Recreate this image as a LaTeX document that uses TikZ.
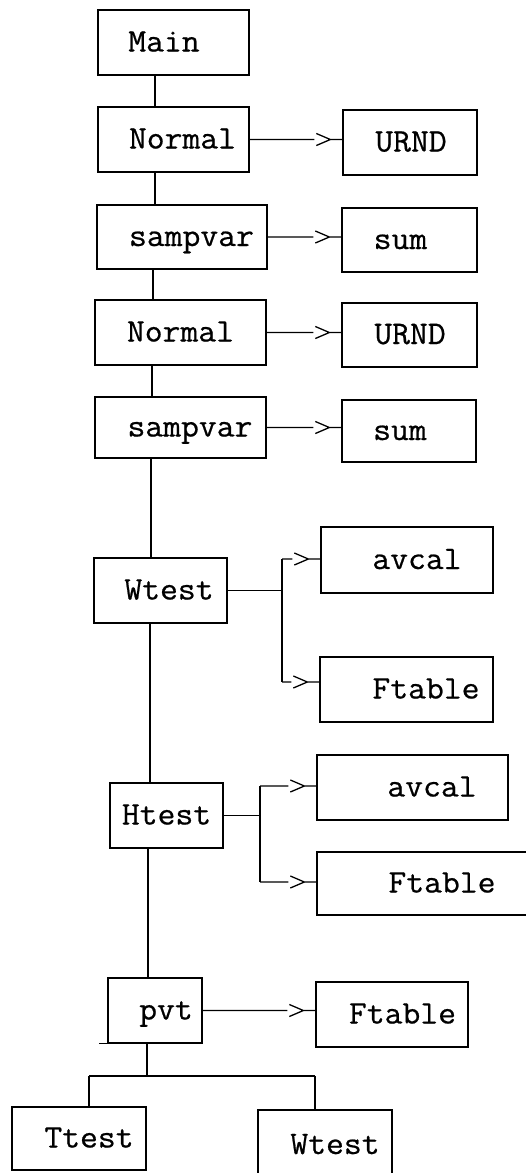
\documentclass[tikz,border=0pt]{standalone}
\usepackage{fontspec}
\setmonofont[FakeStretch=1.05,FakeBold=0.6]{Latin Modern Mono}
\newcommand{\txtshift}[2]{\kern#1pt#2\kern-#1pt}
\begin{document}
\begin{tikzpicture}[x=1pt,y=-1pt,line width=1.3pt,
  box/.style={draw,rectangle,inner sep=0pt,font=\ttfamily\fontsize{33}{40}\selectfont,
              text height=18pt,text depth=0pt},
  chev/.style={to path={-- ([xshift=-28pt]\tikztotarget)
      ([xshift=-26pt,yshift=6pt]\tikztotarget) -- ([xshift=-12pt]\tikztotarget)
      -- ([xshift=-26pt,yshift=-6pt]\tikztotarget)
      ([xshift=-12pt]\tikztotarget) -- (\tikztotarget)}}]
\useasboundingbox (0,0) rectangle (526,1173);
% boxes
\node[box,minimum width=151pt,minimum height=65pt] (main) at (173.5,42.5) {\txtshift{-9.5}{Main}};
\node[box,minimum width=151pt,minimum height=65pt] (normal1) at (173.5,139.5) {\txtshift{9}{Normal}};
\node[box,minimum width=134pt,minimum height=65pt] (urnd1) at (410,142.5) {\txtshift{1}{URND}};
\node[box,minimum width=170pt,minimum height=64pt] (sampvar1) at (182,237) {\txtshift{9.5}{sampvar}};
\node[box,minimum width=135pt,minimum height=64pt] (sum1) at (409.5,240) {\txtshift{-9}{sum}};
\node[box,minimum width=171pt,minimum height=65pt] (normal2) at (180.5,332.5) {\txtshift{0}{Normal}};
\node[box,minimum width=135pt,minimum height=64pt] (urnd2) at (409.5,335) {\txtshift{0.5}{URND}};
\node[box,minimum width=171pt,minimum height=61pt] (sampvar2) at (180.5,427.5) {\txtshift{9.5}{sampvar}};
\node[box,minimum width=134pt,minimum height=62pt] (sum2) at (409,431) {\txtshift{-9}{sum}};
\node[box,minimum width=133pt,minimum height=65pt] (wtest1) at (160.5,590.5) {\txtshift{8.5}{Wtest}};
\node[box,minimum width=172pt,minimum height=66pt] (avcal1) at (407,560) {\txtshift{10}{avcal}};
\node[box,minimum width=173pt,minimum height=65pt] (ftable1) at (406.5,689.5) {\txtshift{19.5}{Ftable}};
\node[box,minimum width=113pt,minimum height=65pt] (htest) at (166.5,815.5) {\txtshift{0}{Htest}};
\node[box,minimum width=191pt,minimum height=65pt] (avcal2) at (412.5,787.5) {\txtshift{19.5}{avcal}};
\node[box,minimum width=213pt,minimum height=63pt] (ftable2) at (423.5,883.5) {\txtshift{18.5}{Ftable}};
\node[box,minimum width=94pt,minimum height=65pt] (pvt) at (155,1010.5) {\txtshift{11}{pvt}};
\node[box,minimum width=152pt,minimum height=65pt] (ftable3) at (392,1014.5) {\txtshift{10.5}{Ftable}};
\node[box,minimum width=134pt,minimum height=63pt] (ttest) at (79,1138.5) {\txtshift{10}{Ttest}};
\node[box,minimum width=134pt,minimum height=70pt] (wtest2) at (325,1145) {\txtshift{10}{Wtest}};
% spine coordinates
\coordinate (x1) at (155,0);
\coordinate (x2) at (153,0);
\coordinate (x3) at (152,0);
\coordinate (x4) at (151,0);
\coordinate (x5) at (150,0);
\coordinate (x6) at (148,0);
\coordinate (bj) at (147,1076);
\coordinate (bl) at (89,1076);
\coordinate (br) at (315,1076);
\draw (main.south -| x1) -- (normal1.north -| x1);
\draw (normal1.south -| x1) -- (sampvar1.north -| x1);
\draw (sampvar1.south -| x2) -- (normal2.north -| x2);
\draw (normal2.south -| x3) -- (sampvar2.north -| x3);
\draw (sampvar2.south -| x4) -- (wtest1.north -| x4);
\draw (wtest1.south -| x5) -- (htest.north -| x5);
\draw (htest.south -| x6) -- (pvt.north -| x6);
\draw (pvt.south -| bj) -- (bj);
\draw (bl) -- (br);
\draw (bl) -- (bl |- ttest.north);
\draw (br) -- (br |- wtest2.north);
\draw (pvt.south west) -- ++(-8,0);
% calls
\draw (normal1.east) to[chev] (normal1.east -| urnd1.west);
\draw (sampvar1.east) to[chev] (sampvar1.east -| sum1.west);
\draw (normal2.east) to[chev] (normal2.east -| urnd2.west);
\draw (sampvar2.east) to[chev] (sampvar2.east -| sum2.west);
\draw (pvt.east) to[chev] (pvt.east -| ftable3.west);
% Wtest fork
\coordinate (wa) at (282,559);
\coordinate (wb) at (282,682);
\draw (wtest1.east) -- (wtest1.east -| wa);
\draw (wa) -- (wb);
\draw (wa) to[chev] (wa -| avcal1.west);
\draw (wb) to[chev] (wb -| ftable1.west);
% Htest fork
\coordinate (ha) at (260,786);
\coordinate (hb) at (260,882);
\draw (htest.east) -- (htest.east -| ha);
\draw (ha) -- (hb);
\draw (ha) to[chev] (ha -| avcal2.west);
\draw (hb) to[chev] (hb -| ftable2.west);
\end{tikzpicture}
\end{document}
